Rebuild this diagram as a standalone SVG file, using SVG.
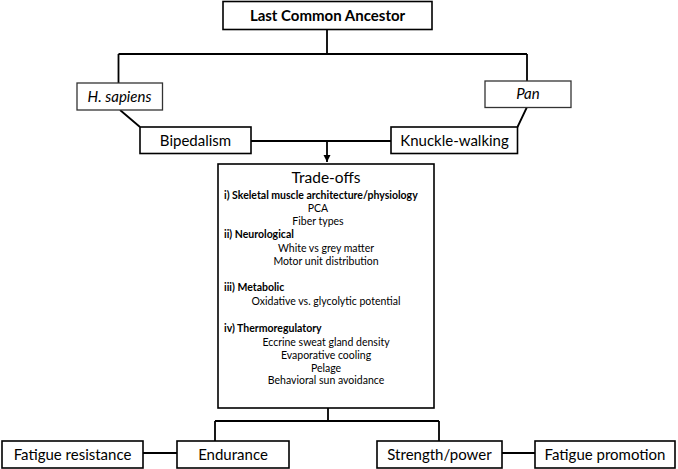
<svg xmlns="http://www.w3.org/2000/svg" width="678" height="469" viewBox="0 0 678 469">
<style>
.box{fill:#fff;stroke:#000;stroke-width:1.6}
.thin{fill:#fff;stroke:#333;stroke-width:1.3}
.ln{fill:none;stroke:#000;stroke-width:1.8}
text{font-family:Lato,"Open Sans","Liberation Sans",sans-serif;fill:#000}
.lbl{font-size:15px;text-anchor:middle}
.it{font-style:italic}
.b{font-weight:bold}
.sm{font-size:10.5px}
.c{text-anchor:middle}
</style>
<defs>
<marker id="ah" markerWidth="8" markerHeight="8" refX="7" refY="4" orient="auto" markerUnits="userSpaceOnUse">
<path d="M0,0.5 L7,4 L0,7.5 Z" fill="#000"/>
</marker>
</defs>
<g id="connectors">
<path class="ln" d="M327,30 V54 M118.5,54 H527 M118.5,54 V83 M527,54 V81"/>
<path class="ln" d="M120,110 L140,127 M527,107 L517.5,127"/>
<path class="ln" d="M251,141 H391"/>
<path class="ln" d="M327,141 V162" marker-end="url(#ah)"/>
<path class="ln" d="M328,408 V421 M215,421 H439 M215,421 V441 M439,421 V441"/>
<path class="ln" d="M143,453 H177 M502,453 H535"/>
</g>
<g id="lca">
<rect class="box" x="223" y="1.5" width="209" height="28"/>
<text class="lbl b" x="327.5" y="21" font-size="16">Last Common Ancestor</text>
</g>
<g id="hsapiens">
<rect class="thin" x="77" y="83" width="85.5" height="27"/>
<text class="lbl it" x="119.5" y="101.5">H. sapiens</text>
</g>
<g id="pan">
<rect class="thin" x="485" y="81" width="86" height="26.5"/>
<text class="lbl it" x="528" y="99">Pan</text>
</g>
<g id="bipedalism">
<rect class="box" x="140" y="127" width="111" height="26.5"/>
<text class="lbl" x="195.5" y="146">Bipedalism</text>
</g>
<g id="knuckle">
<rect class="box" x="391" y="127" width="126.5" height="26.5"/>
<text class="lbl" x="454.5" y="146">Knuckle-walking</text>
</g>
<g id="tradeoffs">
<rect class="box" x="218" y="164" width="216" height="244"/>
<text class="c" x="326" y="183" font-size="15.5">Trade-offs</text>
<text class="sm b" x="224" y="199">i) Skeletal muscle architecture/physiology</text>
<text class="sm c" x="318" y="212">PCA</text>
<text class="sm c" x="318" y="225">Fiber types</text>
<text class="sm b" x="224" y="238">ii) Neurological</text>
<text class="sm c" x="326" y="252">White vs grey matter</text>
<text class="sm c" x="326" y="265">Motor unit distribution</text>
<text class="sm b" x="224" y="291">iii) Metabolic</text>
<text class="sm c" x="326" y="305">Oxidative vs. glycolytic potential</text>
<text class="sm b" x="224" y="332">iv) Thermoregulatory</text>
<text class="sm c" x="326" y="346">Eccrine sweat gland density</text>
<text class="sm c" x="326" y="359">Evaporative cooling</text>
<text class="sm c" x="326" y="372">Pelage</text>
<text class="sm c" x="326" y="384">Behavioral sun avoidance</text>
</g>
<g id="fatigue-resistance">
<rect class="box" x="2" y="441" width="141" height="27"/>
<text class="lbl" x="72.5" y="459.5">Fatigue resistance</text>
</g>
<g id="endurance">
<rect class="box" x="177" y="441" width="112" height="27"/>
<text class="lbl" x="233" y="459.5">Endurance</text>
</g>
<g id="strength">
<rect class="box" x="377" y="441" width="125" height="27"/>
<text class="lbl" x="439.5" y="459.5">Strength/power</text>
</g>
<g id="fatigue-promotion">
<rect class="box" x="535" y="441" width="140" height="27"/>
<text class="lbl" x="605" y="459.5">Fatigue promotion</text>
</g>
</svg>
